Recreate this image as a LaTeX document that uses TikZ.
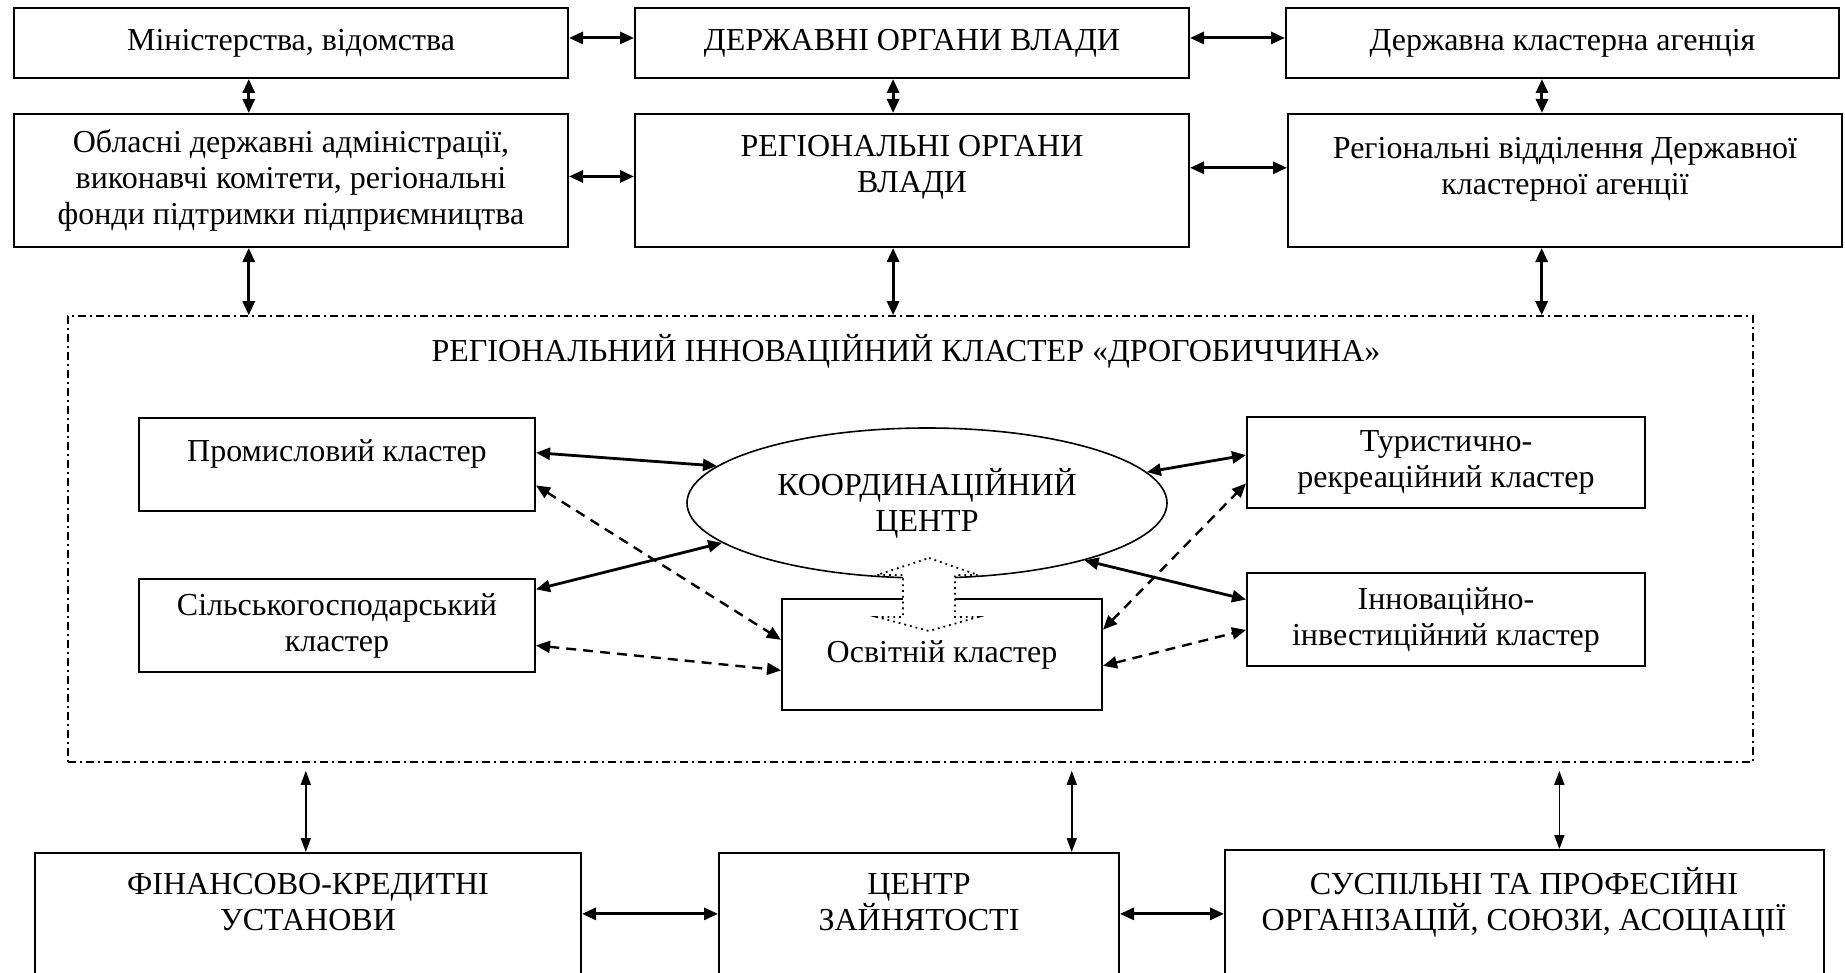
\documentclass[tikz,border=0pt]{standalone}
\usepackage{fontspec}
\setmainfont{Liberation Serif}
\usetikzlibrary{arrows.meta,calc,shapes.geometric}
\newcommand{\myfs}{\fontsize{16}{18}\selectfont}
\begin{document}
\begin{tikzpicture}[x=0.5pt,y=-0.5pt,
  box/.style={draw,line width=1pt,inner sep=0pt,align=center,font=\myfs},
  wh/.style 2 args={minimum width=#1*0.5pt,minimum height=#2*0.5pt},
  txt/.style={align=center,inner sep=0pt,font=\myfs},
  arr/.style={{Triangle[length=7pt,width=6pt]}-{Triangle[length=7pt,width=6pt]},line width=1.5pt},
  arrin/.style={{Triangle[length=7pt,width=6pt]}-{Triangle[length=7pt,width=6pt]},line width=1.4pt},
  dasharr/.style={{Triangle[length=7pt,width=6pt]}-{Triangle[length=7pt,width=6pt]},line width=1.2pt,dash pattern=on 5pt off 3.5pt},
  thinarr/.style={{Triangle[length=7pt,width=5pt]}-{Triangle[length=7pt,width=5pt]},line width=0.8pt},
  frame/.style={draw,line width=0.8pt,dash pattern=on 4pt off 2pt on 1pt off 2pt,inner sep=0pt},
  hollow/.style={draw,line width=0.9pt,dotted,fill=white}
]
\useasboundingbox (0,0) rectangle (1845,973);

% top row
\node[box,wh={554}{70}] (A) at (291,43) {Міністерства, відомства};
\node[box,wh={554}{70}] (B) at (912,43) {ДЕРЖАВНІ ОРГАНИ ВЛАДИ};
\node[box,wh={553}{70}] (C) at (1562.5,43) {Державна кластерна агенція};

% second row
\node[box,wh={554}{133}] (D) at (291,180.5) {Обласні державні адміністрації,\\виконавчі комітети, регіональні\\фонди підтримки підприємництва};
\node[box,wh={554}{133}] (E) at (912,180.5) {};
\node[txt] (Et) at (912,167) {РЕГІОНАЛЬНІ ОРГАНИ\\ВЛАДИ};
\node[box,wh={554}{133}] (F) at (1565,180.5) {};
\node[txt] (Ft) at (1565,169) {Регіональні відділення Державної\\кластерної агенції};

% cluster frame
\node[frame,wh={1685}{446}] (R) at (910.5,539) {};
\node[txt] (Rt) at (906,351) {РЕГІОНАЛЬНИЙ ІННОВАЦІЙНИЙ КЛАСТЕР «ДРОГОБИЧЧИНА»};

% inner nodes
\node[box,wh={396}{93}] (P) at (337,464.5) {};
\node[txt] (Pt) at (337,454) {Промисловий кластер};
\node[box,wh={396}{93}] (S) at (337,625.5) {Сільськогосподарський\\кластер};
\node[draw,ellipse,line width=0.8pt,minimum width=240pt,minimum height=75pt,inner sep=0pt,align=center,font=\myfs] (K) at (927,503) {КООРДИНАЦІЙНИЙ\\ЦЕНТР};
\node[box,wh={320}{111}] (O) at (942,654.5) {Освітній кластер};
\node[box,wh={398}{91}] (T) at (1446,462.5) {Туристично-\\рекреаційний кластер};
\node[box,wh={398}{93}] (I) at (1446,619.5) {Інноваційно-\\інвестиційний кластер};

% bottom row
\node[box,wh={546}{137}] (Fin) at (308,921.5) {};
\node[txt] (Fint) at (308,902) {ФІНАНСОВО-КРЕДИТНІ\\УСТАНОВИ};
\node[box,wh={400}{137}] (Cz) at (919,921.5) {};
\node[txt] (Czt) at (919,902) {ЦЕНТР\\ЗАЙНЯТОСТІ};
\node[box,wh={599}{140}] (Sus) at (1524.5,920) {};
\node[txt] (Sust) at (1524,902) {СУСПІЛЬНІ ТА ПРОФЕСІЙНІ\\ОРГАНІЗАЦІЙ, СОЮЗИ, АСОЦІАЦІЇ};

% top connectors
\coordinate (ab) at ($(A.north east)!0.43!(A.south east)$);
\draw[arr] (ab) -- (ab -| B.west);
\coordinate (bc) at ($(B.north east)!0.43!(B.south east)$);
\draw[arr] (bc) -- (bc -| C.west);
\coordinate (ad) at ($(A.south west)!0.424!(A.south east)$);
\draw[arr] (ad) -- (ad |- D.north);
\coordinate (be) at ($(B.south west)!0.466!(B.south east)$);
\draw[arr] (be) -- (be |- E.north);
\coordinate (cf) at ($(C.south west)!0.463!(C.south east)$);
\draw[arr] (cf) -- (cf |- F.north);
\coordinate (de) at ($(D.north east)!0.47!(D.south east)$);
\draw[arr] (de) -- (de -| E.west);
\coordinate (ef) at ($(E.north east)!0.406!(E.south east)$);
\draw[arr] (ef) -- (ef -| F.west);
\coordinate (dr) at ($(D.south west)!0.424!(D.south east)$);
\draw[arr] (dr) -- (dr |- R.north);
\coordinate (er) at ($(E.south west)!0.466!(E.south east)$);
\draw[arr] (er) -- (er |- R.north);
\coordinate (fr) at ($(F.south west)!0.458!(F.south east)$);
\draw[arr] (fr) -- (fr |- R.north);

% inner connectors
\draw[arrin] ($(P.north east)!0.376!(P.south east)$) -- (K.170.5);
\draw[arrin] ($(S.north east)!0.12!(S.south east)$) -- (K.191.9);
\draw[arrin] (K.8.8) -- ($(T.north west)!0.42!(T.south west)$);
\draw[arrin] (K.340.6) -- ($(I.north west)!0.29!(I.south west)$);
\draw[dasharr] ($(P.north east)!0.72!(P.south east)$) -- ($(O.north west)!0.37!(O.south west)$);
\draw[dasharr] ($(S.north east)!0.71!(S.south east)$) -- ($(O.north west)!0.64!(O.south west)$);
\draw[dasharr] ($(O.north east)!0.28!(O.south east)$) -- ($(T.north west)!0.725!(T.south west)$);
\draw[dasharr] ($(O.north east)!0.6!(O.south east)$) -- ($(I.north west)!0.61!(I.south west)$);

% hollow double arrow between coordinating centre and education cluster
\draw[hollow,shift={(K.center)}] (2,55) -- (51,72) -- (28,72) -- (28,114) -- (51,114) -- (2,128)
  -- (-50,114) -- (-24,114) -- (-24,72) -- (-50,72) -- cycle;

% bottom connectors
\coordinate (rf) at ($(Fin.north west)!0.496!(Fin.north east)$);
\draw[thinarr,shorten <=4pt] (rf |- R.south) -- (rf);
\coordinate (rc) at ($(Cz.north west)!0.88!(Cz.north east)$);
\draw[thinarr,shorten <=4pt] (rc |- R.south) -- (rc);
\coordinate (rs) at ($(Sus.north west)!0.558!(Sus.north east)$);
\draw[thinarr,shorten <=4pt] (rs |- R.south) -- (rs);
\coordinate (fc) at ($(Fin.north east)!0.445!(Fin.south east)$);
\draw[arr] (fc) -- (fc -| Cz.west);
\coordinate (cs) at ($(Cz.north east)!0.445!(Cz.south east)$);
\draw[arr] (cs) -- (cs -| Sus.west);
\end{tikzpicture}
\end{document}
